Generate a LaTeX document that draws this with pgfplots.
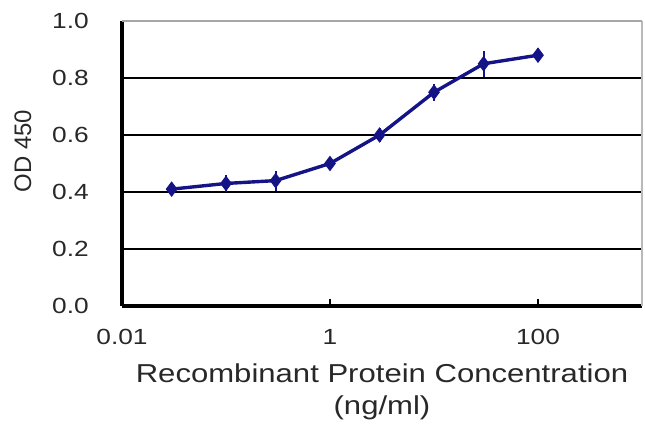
\documentclass[border=0pt]{standalone}
\usepackage{fontspec}
\setmainfont{Liberation Sans}
\newfontfamily\widesans[FakeStretch=1.2]{Liberation Sans}
\usepackage{pgfplots}
\pgfplotsset{compat=1.18}
\definecolor{navy}{RGB}{20,20,135}
\definecolor{labelgray}{RGB}{40,40,40}

\begin{document}
\begin{tikzpicture}
\path[use as bounding box] (-122bp,-124bp) rectangle (523bp,306bp);
\begin{axis}[
    at={(0,0)}, anchor=south west,
    scale only axis,
    width=520bp, height=285bp,
    xmode=log,
    xmin=0.01, xmax=1000,
    ymin=0, ymax=1,
    axis x line*=bottom,
    axis y line*=left,
    axis line style={black, line width=3.6bp},
    xtick={0.01,1,100},
    xticklabels={0.01,1,100},
    xminorticks=false,
    ytick={0,0.2,0.4,0.6,0.8},
    yticklabels={0.0,0.2,0.4,0.6,0.8},
    extra y ticks={1},
    extra y tick labels={1.0},
    extra y tick style={major grid style={gray!70, line width=1.6bp}},
    extra x ticks={1000},
    extra x tick labels={},
    extra x tick style={grid=major, major grid style={gray!55, line width=1.4bp}, major tick length=0pt},
    ymajorgrids=true,
    major grid style={black, line width=2.8bp},
    tick align=inside,
    major tick length=7bp,
    xtick style={black, line width=2.6bp},
    ytick style={draw=none},
    /pgf/number format/assume math mode=true,
    xticklabel style={font=\widesans\fontsize{22}{22}\selectfont, text=labelgray, anchor=center, yshift=-31bp},
    yticklabel style={font=\widesans\fontsize{22}{22}\selectfont, text=labelgray, anchor=east, inner sep=0pt, xshift=-33bp},
    every axis y label/.style={at={(axis description cs:0,0.544)}, xshift=-99bp, rotate=90, anchor=center,
        font=\fontsize{24}{24}\selectfont, text=labelgray},
    every axis x label/.style={at={(axis description cs:0.5,0)}, yshift=-86bp, anchor=center, align=center,
        font=\widesans\fontsize{26}{32}\selectfont, text=labelgray},
    ylabel={OD 450},
    xlabel={Recombinant Protein Concentration\\(ng/ml)},
]
\addplot[navy, line width=3.4bp, mark=diamond*, mark size=7bp,
    mark options={solid, fill=navy, draw=navy, line width=1bp},
    error bars/.cd, y dir=both, y explicit, error mark=none,
    error bar style={navy, line width=2bp}]
table[x=x, y=y, y error=e] {
x     y     e
0.03  0.41  0.015
0.1   0.43  0.030
0.3   0.44  0.035
1     0.50  0.020
3     0.60  0.025
10    0.75  0.030
30    0.85  0.045
100   0.88  0.025
};
\end{axis}
\end{tikzpicture}
\end{document}
